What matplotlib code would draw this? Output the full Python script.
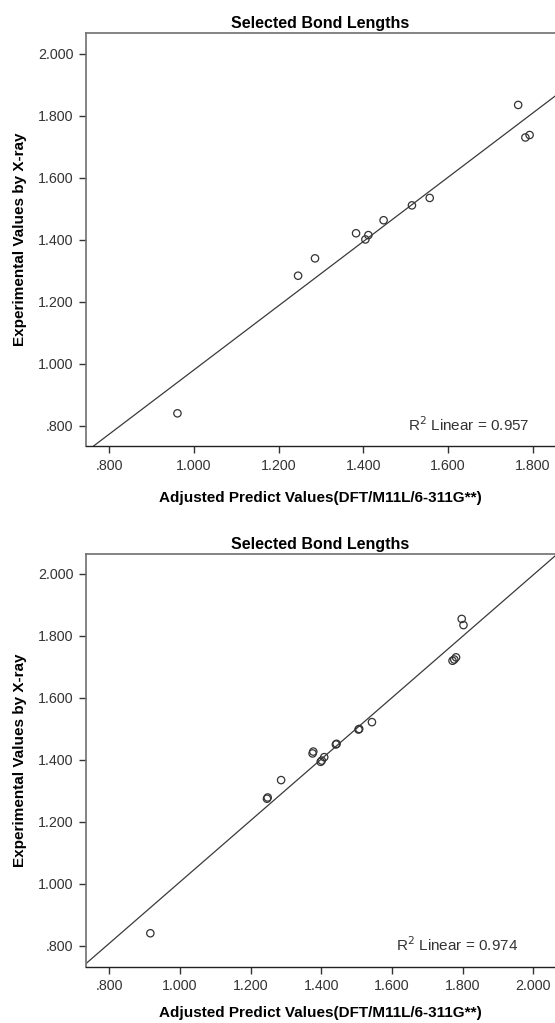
import numpy as np
import matplotlib
matplotlib.use("Agg")
import matplotlib.pyplot as plt
from matplotlib.ticker import FixedLocator, FuncFormatter

plt.rcParams['font.family'] = ['Liberation Sans', 'DejaVu Sans']

title = "Selected Bond Lengths"
xlabel = "Adjusted Predict Values(DFT/M11L/6-311G**)"
ylabel = "Experimental Values by X-ray"

# top chart
pred_a = [0.961, 1.246, 1.286, 1.383, 1.405, 1.412, 1.448, 1.515, 1.557, 1.766, 1.783, 1.793]
exp_a = [0.840, 1.284, 1.340, 1.421, 1.401, 1.415, 1.463, 1.511, 1.535, 1.835, 1.730, 1.738]
r2_a = "0.957"
xticks_a = [0.8, 1.0, 1.2, 1.4, 1.6, 1.8]

# bottom chart
pred_b = [0.916, 1.246, 1.248, 1.286, 1.375, 1.377, 1.398, 1.401, 1.408, 1.441, 1.443,
          1.505, 1.507, 1.543, 1.771, 1.776, 1.781, 1.797, 1.802]
exp_b = [0.841, 1.275, 1.279, 1.335, 1.421, 1.427, 1.394, 1.398, 1.409, 1.450, 1.452,
         1.498, 1.500, 1.522, 1.720, 1.724, 1.731, 1.855, 1.835]
r2_b = "0.974"
xticks_b = [0.8, 1.0, 1.2, 1.4, 1.6, 1.8, 2.0]

yticks = [0.8, 1.0, 1.2, 1.4, 1.6, 1.8, 2.0]


def fmt(v, pos=None):
    s = "%.3f" % v
    if s.startswith("0"):
        s = s[1:]
    return s


def panel(ax, xs, ys, r2, xt, xlim, ylim, txt_x, xpad):
    xs = np.array(xs)
    ys = np.array(ys)
    ax.set_xlim(*xlim)
    ax.set_ylim(*ylim)
    # least squares fit line, like the spss "fit line at total"
    k, b = np.polyfit(xs, ys, 1)
    lx = np.array(xlim)
    ax.plot(lx, k * lx + b, color='#3a3a3a', lw=0.9, zorder=2)
    ax.scatter(xs, ys, s=28, facecolors='none', edgecolors='#333333', linewidths=0.9, zorder=3)
    ax.xaxis.set_major_locator(FixedLocator(xt))
    ax.yaxis.set_major_locator(FixedLocator(yticks))
    ax.xaxis.set_major_formatter(FuncFormatter(fmt))
    ax.yaxis.set_major_formatter(FuncFormatter(fmt))
    ax.tick_params(direction='out', length=5, width=1, color='#333333',
                   labelsize=10.3, labelcolor='#333333', pad=4)
    ax.spines['right'].set_visible(False)
    for s in ['left', 'top']:
        ax.spines[s].set_color('#707070')
        ax.spines[s].set_linewidth(1.2)
    ax.spines['bottom'].set_color('#222222')
    ax.spines['bottom'].set_linewidth(1.0)
    ax.set_title(title, fontsize=11.5, fontweight='bold', pad=4)
    ax.set_xlabel(xlabel, fontsize=11, fontweight='bold', labelpad=xpad)
    ax.set_ylabel(ylabel, fontsize=11, fontweight='bold', labelpad=8)
    ax.text(txt_x, 0.03, "R$^2$ Linear = " + r2, transform=ax.transAxes,
            fontsize=11, color='#333333', ha='left', va='bottom')


fig = plt.figure(figsize=(5.55, 10.23), dpi=100)
ax1 = fig.add_axes([0.155, 0.5640, 0.845, 0.4034])
ax2 = fig.add_axes([0.155, 0.0550, 0.845, 0.4032])

panel(ax1, pred_a, exp_a, r2_a, xticks_a, (0.745, 1.853), (0.7345, 2.066), 0.687, 13)
panel(ax2, pred_b, exp_b, r2_b, xticks_b, (0.734, 2.061), (0.733, 2.0635), 0.662, 9)

fig.savefig("out.png", dpi=100)
